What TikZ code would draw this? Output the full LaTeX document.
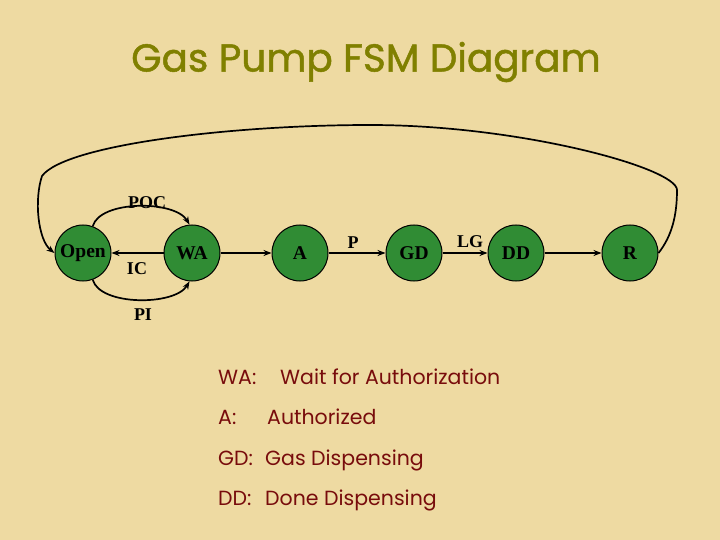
\documentclass[tikz,border=0pt]{standalone}
\usepackage{fontspec}
\setmainfont{Liberation Serif}
\newfontfamily\handfont{Poppins}
\newfontfamily\titlefont[FakeBold=1.2]{Poppins}
\usetikzlibrary{arrows.meta}

\definecolor{parchment}{RGB}{238,218,162}
\definecolor{stategreen}{RGB}{48,140,52}
\definecolor{titleolive}{RGB}{128,128,0}
\definecolor{keyred}{RGB}{120,12,12}

\begin{document}
\begin{tikzpicture}[x=1pt,y=-1pt,>={Stealth[length=8pt,width=6pt]}]

	\tikzset{
		state/.style={circle,draw=black,line width=1pt,fill=stategreen,minimum size=56pt,inner sep=0pt,font=\bfseries\fontsize{19.5}{19.5}\selectfont},
		trans/.style={->,line width=1.7pt},
		tlabel/.style={font=\bfseries\fontsize{18}{18}\selectfont,inner sep=1pt},
		keytext/.style={anchor=base west,text=keyred,font=\handfont\fontsize{20.5}{20.5}\selectfont,inner sep=0pt},
	}

	% background and page size
	\fill[parchment] (0,0) rectangle (720,540);
	\useasboundingbox (0,0) rectangle (720,540);

	% title
	\node[text=titleolive,font=\titlefont\fontsize{39}{39}\selectfont] (title) at (366,62) {Gas Pump FSM Diagram};

	%========================================
	% States
	%========================================
	\node[state] (open) at (83,253) {Open};
	\node[state] (wa)   at (192,253) {WA};
	\node[state] (a)    at (300,253) {A};
	\node[state] (gd)   at (414,253) {GD};
	\node[state] (dd)   at (516,253) {DD};
	\node[state] (r)    at (630,253) {R};

	%========================================
	% Transitions
	%========================================
	% Open <-> WA
	\draw[trans] (open.70) .. controls (100,200) and (175,200) .. (wa.95);
	\draw[trans] (open.-70) .. controls (100,306) and (175,306) .. (wa.-95);
	\draw[trans] (wa) -- (open);
	\node[tlabel] (poc) at (147,203) {POC};
	\node[tlabel] (ic)  at (137,269) {IC};
	\node[tlabel] (pi)  at (143,315) {PI};

	% main line
	\draw[trans] (wa) -- (a);
	\draw[trans] (a) -- (gd);
	\draw[trans] (gd) -- (dd);
	\draw[trans] (dd) -- (r);
	\node[tlabel] (p)  at (353,243) {P};
	\node[tlabel] (lg) at (470,242) {LG};

	% R back to Open
	\draw[trans] (r.east) .. controls (672,236) and (677,215) .. (677,190)
		.. controls (677,168) and (520,125) .. (370,125)
		.. controls (230,125) and (65,145) .. (42,176)
		.. controls (34,200) and (38,240) .. (open.west);

	%========================================
	% Key
	%========================================
	\node[keytext] (kwa) at (218,384) {WA:};
	\node[keytext] at (280,384) {Wait for Authorization};
	\node[keytext] (ka) at (218,424) {A:};
	\node[keytext] at (267,424) {Authorized};
	\node[keytext] (kgd) at (218,465) {GD:};
	\node[keytext] at (265,465) {Gas Dispensing};
	\node[keytext] (kdd) at (218,505) {DD:};
	\node[keytext] at (265,505) {Done Dispensing};

\end{tikzpicture}
\end{document}
